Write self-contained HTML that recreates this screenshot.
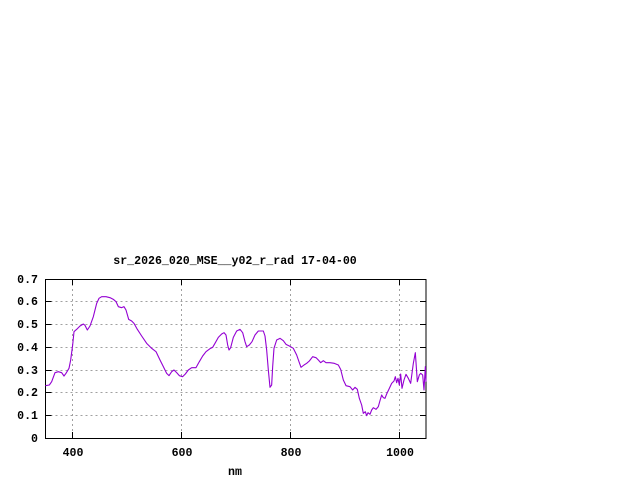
<!DOCTYPE html>
<html><head><style>
html,body{margin:0;padding:0;background:#fff;width:640px;height:480px;overflow:hidden}
svg text{font-family:"Liberation Mono",monospace;font-weight:bold;font-size:11.6px;fill:#000}
</style></head><body>
<svg width="640" height="480" viewBox="0 0 640 480" xmlns="http://www.w3.org/2000/svg">
<rect width="640" height="480" fill="#fff"/>
<g stroke="#a0a0a0" stroke-width="1" stroke-dasharray="2,3">
<line x1="45.5" x2="426" y1="415.5" y2="415.5"/>
<line x1="45.5" x2="426" y1="392.5" y2="392.5"/>
<line x1="45.5" x2="426" y1="370.5" y2="370.5"/>
<line x1="45.5" x2="426" y1="347.5" y2="347.5"/>
<line x1="45.5" x2="426" y1="324.5" y2="324.5"/>
<line x1="45.5" x2="426" y1="301.5" y2="301.5"/>
<line x1="72.5" x2="72.5" y1="279" y2="438"/>
<line x1="181.5" x2="181.5" y1="279" y2="438"/>
<line x1="290.5" x2="290.5" y1="279" y2="438"/>
<line x1="399.5" x2="399.5" y1="279" y2="438"/>
</g>
<g stroke="#000" stroke-width="1">
<path d="M45.5 438.5h6M45.5 415.5h6M45.5 392.5h6M45.5 370.5h6M45.5 347.5h6M45.5 324.5h6M45.5 301.5h6M45.5 279.5h6"/>
<path d="M426 438.5h-6M426 415.5h-6M426 392.5h-6M426 370.5h-6M426 347.5h-6M426 324.5h-6M426 301.5h-6"/>
<path d="M72.5 438v-6M181.5 438v-6M290.5 438v-6M399.5 438v-6M72.5 279v6M181.5 279v6M290.5 279v6M399.5 279v6"/>
<rect x="45.5" y="279.5" width="380.5" height="159" fill="none"/>
</g>
<g transform="translate(0,250) scale(0.33333)">
<polyline fill="none" stroke="#9400d3" stroke-width="3.3" stroke-linejoin="round" points="136,407 148,405 155,395 165,368 175,365 185,368 192,378 198,370 207,355 212,330 218,285 222,245 230,238 240,228 250,222 255,226 262,240 270,228 280,200 290,160 297,145 305,140 318,140 330,143 340,148 348,155 355,170 365,173 372,170 378,180 386,208 395,213 402,220 412,238 425,258 440,280 455,295 468,305 480,330 490,350 500,370 507,377 515,365 522,360 530,368 538,377 548,380 556,372 565,360 575,353 588,353 598,335 608,318 618,305 630,296 638,292 645,280 655,262 665,252 672,248 678,255 683,285 687,300 692,293 700,262 710,243 720,238 728,248 735,275 740,290 748,285 756,275 765,255 775,243 790,243 795,258 800,300 805,360 810,412 815,405 818,350 822,295 830,270 840,265 850,272 858,283 868,288 880,295 890,315 898,338 903,352 912,345 920,340 928,333 938,320 948,323 955,330 962,338 970,332 978,338 990,338 1003,340 1015,345 1022,358 1030,390 1038,407 1050,410 1058,420 1065,412 1072,418 1078,445 1085,465 1090,490 1096,485 1100,497 1104,488 1110,493 1115,480 1120,473 1128,478 1135,470 1140,452 1145,435 1150,443 1155,445 1160,432 1168,415 1175,400 1182,393 1186,380 1190,398 1194,385 1198,405 1202,372 1206,415 1212,390 1218,373 1225,385 1232,400 1240,340 1246,308 1252,395 1258,375 1262,370 1268,375 1272,420 1276,350 1278,395"/>
</g>
<text x="235" y="264" text-anchor="middle">sr_2026_020_MSE__y02_r_rad 17-04-00</text>
<g text-anchor="end">
<text x="38" y="442">0</text>
<text x="38" y="419">0.1</text>
<text x="38" y="396">0.2</text>
<text x="38" y="374">0.3</text>
<text x="38" y="351">0.4</text>
<text x="38" y="328">0.5</text>
<text x="38" y="305">0.6</text>
<text x="38" y="283">0.7</text>
</g>
<g text-anchor="middle">
<text x="73" y="456">400</text>
<text x="182" y="456">600</text>
<text x="291" y="456">800</text>
<text x="400" y="456">1000</text>
<text x="235" y="475">nm</text>
</g>
</svg>
</body></html>
